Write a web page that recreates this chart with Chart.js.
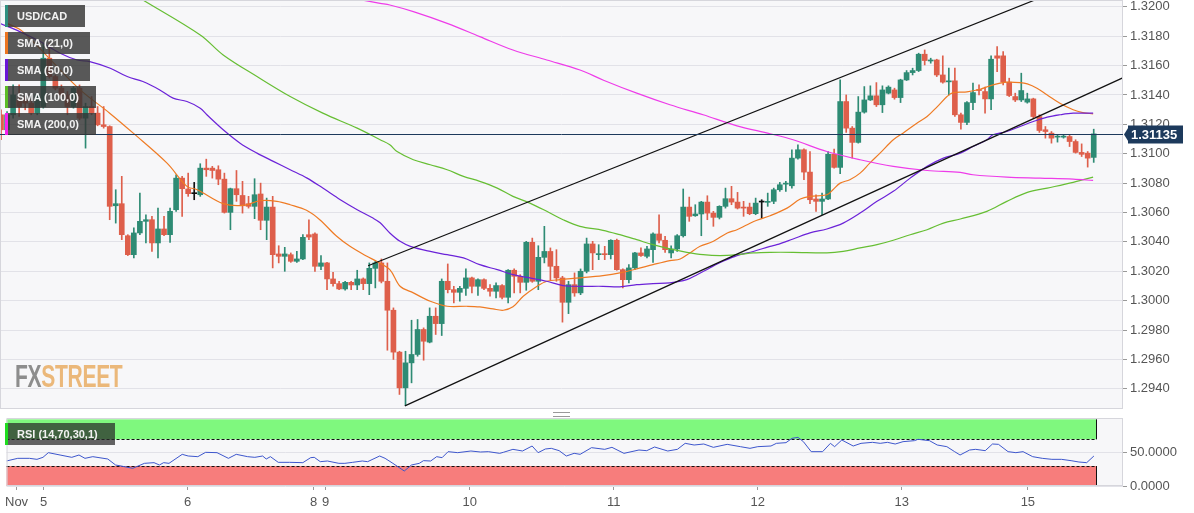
<!DOCTYPE html>
<html>
<head>
<meta charset="utf-8">
<script src="https://cdn.jsdelivr.net/npm/chart.js@4.4.0/dist/chart.umd.min.js"></script>
<style>
  html, body { margin: 0; padding: 0; background: #fff; }
  #wrap { position: relative; width: 1194px; height: 513px; overflow: hidden; font-family: "Liberation Sans", Arial, sans-serif; }
  canvas { position: absolute; left: 0; }
  #main { top: 0; }
  #rsi { top: 411px; }
  .tag { position: absolute; left: 5px; height: 22px; line-height: 22px; background: rgba(52,52,52,0.82);
         color: #f2f2f2; font-size: 11px; font-weight: bold; padding-left: 12px; box-sizing: border-box; }
  .tag i { position: absolute; left: 0; top: 0; width: 3px; height: 100%; }
  #logo { position: absolute; left: 15px; top: 359px; font-size: 31px; font-weight: bold; letter-spacing: -0.5px;
          transform: scaleX(0.68); transform-origin: left top; white-space: nowrap; }
  #grip { position: absolute; left: 553px; top: 412px; width: 17px; height: 3px; border-top: 1px solid #999; border-bottom: 1px solid #999; }
</style>
</head>
<body>
<div id="wrap">
  <canvas id="main" width="1194" height="411"></canvas>
  <canvas id="rsi" width="1194" height="102"></canvas>
  <div class="tag" style="top:5px;width:80px"><i style="background:#2f8f80"></i>USD/CAD</div>
  <div class="tag" style="top:32px;width:85px"><i style="background:#ec7420"></i>SMA (21,0)</div>
  <div class="tag" style="top:59px;width:85px"><i style="background:#6a16d6"></i>SMA (50,0)</div>
  <div class="tag" style="top:86px;width:91px"><i style="background:#5cbc26"></i>SMA (100,0)</div>
  <div class="tag" style="top:113px;width:91px"><i style="background:#f520f0"></i>SMA (200,0)</div>
  <div class="tag" style="top:423px;width:110px;background:rgba(40,40,40,0.72)"><i style="background:#1fdc1f"></i>RSI (14,70,30,1)</div>
  <div id="logo"><span style="color:#8d8d8d">FX</span><span style="color:#ebb87a">STREET</span></div>
  <div id="grip"></div>
</div>
<script>
// hourly candles, index 0 = first bar on the left
const opens = [1.31265,1.31163,1.31265,1.31366,1.31366,1.31344,1.31276,1.31321,1.31650,1.31525,1.31446,1.31400,1.31321,1.31446,1.31242,1.31321,1.31276,1.31197,1.31185,1.30646,
  1.30660,1.30442,1.30313,1.30461,1.30540,1.30551,1.30393,1.30488,1.30449,1.30619,1.30834,1.30760,1.30728,1.30721,1.30902,1.30902,1.30891,1.30827,1.30601,1.30762,
  1.30716,1.30660,1.30642,1.30726,1.30547,1.30637,1.30318,1.30302,1.30313,1.30268,1.30284,1.30449,1.30454,1.30234,1.30257,1.30148,1.30116,1.30080,1.30125,1.30107,
  1.30148,1.30116,1.30220,1.30257,1.30132,1.29935,1.29650,1.29407,1.29577,1.29634,1.29804,1.29718,1.29894,1.29844,1.30132,1.30075,1.30057,1.30084,1.30155,1.30098,
  1.30143,1.30084,1.30064,1.30103,1.30023,1.30207,1.30166,1.30125,1.30397,1.30132,1.30295,1.30335,1.30234,1.30155,1.29989,1.30109,1.30053,1.30200,1.30386,1.30313,
  1.30318,1.30313,1.30411,1.30211,1.30143,1.30223,1.30325,1.30302,1.30347,1.30454,1.30411,1.30325,1.30352,1.30442,1.30637,1.30578,1.30590,1.30671,1.30596,1.30567,
  1.30642,1.30694,1.30671,1.30637,1.30637,1.30592,1.30671,1.30669,1.30676,1.30755,1.30793,1.30782,1.30970,1.31027,1.30875,1.30692,1.30676,1.30692,1.30996,1.30907,
  1.31355,1.31174,1.31077,1.31283,1.31366,1.31394,1.31333,1.31412,1.31434,1.31382,1.31502,1.31552,1.31566,1.31677,1.31631,1.31638,1.31536,1.31489,1.31496,1.31265,
  1.31213,1.31348,1.31434,1.31423,1.31373,1.31666,1.31666,1.31487,1.31389,1.31366,1.31351,1.31373,1.31253,1.31163,1.31140,1.31113,1.31113,1.31117,1.31083,1.31009,
  1.31004,1.30975];
const highs = [1.31299,1.31287,1.31468,1.31468,1.31389,1.31366,1.31412,1.31752,1.31752,1.31536,1.31468,1.31423,1.31457,1.31468,1.31344,1.31389,1.31321,1.31321,1.31190,1.30755,
  1.30846,1.30449,1.30495,1.30732,1.30585,1.30574,1.30630,1.30574,1.30630,1.30857,1.30846,1.30868,1.30805,1.30932,1.30963,1.30914,1.30918,1.30868,1.30766,1.30886,
  1.30812,1.30710,1.30830,1.30800,1.30698,1.30710,1.30374,1.30363,1.30325,1.30335,1.30449,1.30551,1.30461,1.30307,1.30261,1.30193,1.30132,1.30132,1.30132,1.30207,
  1.30155,1.30257,1.30268,1.30284,1.30257,1.29951,1.29656,1.29656,1.29867,1.29872,1.29815,1.29951,1.29951,1.30148,1.30250,1.30098,1.30098,1.30216,1.30161,1.30148,
  1.30148,1.30109,1.30121,1.30109,1.30211,1.30216,1.30177,1.30404,1.30426,1.30374,1.30506,1.30359,1.30347,1.30166,1.30132,1.30189,1.30216,1.30426,1.30404,1.30381,
  1.30370,1.30415,1.30419,1.30216,1.30245,1.30329,1.30359,1.30370,1.30461,1.30585,1.30438,1.30374,1.30449,1.30760,1.30705,1.30653,1.30676,1.30714,1.30608,1.30646,
  1.30766,1.30778,1.30737,1.30676,1.30664,1.30698,1.30687,1.30732,1.30766,1.30805,1.30812,1.31027,1.31061,1.31033,1.31015,1.30721,1.30732,1.31015,1.31031,1.31502,
  1.31400,1.31185,1.31389,1.31457,1.31462,1.31484,1.31462,1.31462,1.31446,1.31507,1.31566,1.31582,1.31684,1.31706,1.31650,1.31643,1.31666,1.31582,1.31582,1.31276,
  1.31355,1.31480,1.31468,1.31453,1.31666,1.31729,1.31695,1.31514,1.31412,1.31548,1.31412,1.31378,1.31265,1.31185,1.31151,1.31129,1.31129,1.31129,1.31095,1.31067,
  1.31015,1.31167];
const lows = [1.31095,1.31140,1.31242,1.31253,1.31299,1.31265,1.31265,1.31310,1.31514,1.31434,1.31389,1.31265,1.31310,1.31231,1.31038,1.31265,1.31190,1.31174,1.30551,1.30528,
  1.30415,1.30307,1.30291,1.30449,1.30393,1.30335,1.30291,1.30442,1.30397,1.30608,1.30574,1.30710,1.30687,1.30710,1.30846,1.30834,1.30789,1.30596,1.30483,1.30676,
  1.30596,1.30630,1.30558,1.30483,1.30415,1.30223,1.30257,1.30200,1.30261,1.30261,1.30279,1.30415,1.30200,1.30211,1.30075,1.30098,1.30075,1.30071,1.30075,1.30075,
  1.30075,1.30041,1.30087,1.30121,1.29663,1.29600,1.29362,1.29287,1.29441,1.29622,1.29595,1.29713,1.29770,1.29763,1.30053,1.29985,1.29996,1.30035,1.30053,1.30035,
  1.30075,1.30030,1.30019,1.30012,1.29985,1.30053,1.30053,1.30071,1.30125,1.30075,1.30257,1.30143,1.30132,1.29854,1.29912,1.30030,1.30041,1.30189,1.30211,1.30279,
  1.30279,1.30284,1.30207,1.30087,1.30121,1.30211,1.30302,1.30291,1.30261,1.30393,1.30329,1.30291,1.30335,1.30433,1.30540,1.30574,1.30442,1.30551,1.30506,1.30556,
  1.30630,1.30653,1.30624,1.30574,1.30585,1.30585,1.30562,1.30642,1.30660,1.30744,1.30744,1.30766,1.30963,1.30823,1.30660,1.30608,1.30585,1.30687,1.30902,1.30864,
  1.31145,1.30970,1.31072,1.31276,1.31362,1.31321,1.31280,1.31407,1.31371,1.31348,1.31498,1.31536,1.31559,1.31604,1.31616,1.31525,1.31480,1.31400,1.31253,1.31167,
  1.31197,1.31299,1.31400,1.31276,1.31299,1.31559,1.31468,1.31389,1.31355,1.31355,1.31344,1.31242,1.31145,1.31106,1.31072,1.31079,1.31106,1.31049,1.31004,1.30981,
  1.30909,1.30941];
const closes = [1.31163,1.31265,1.31400,1.31321,1.31344,1.31276,1.31400,1.31650,1.31525,1.31446,1.31400,1.31321,1.31446,1.31242,1.31321,1.31276,1.31197,1.31185,1.30642,1.30660,
  1.30449,1.30313,1.30461,1.30540,1.30551,1.30393,1.30488,1.30449,1.30608,1.30834,1.30762,1.30728,1.30728,1.30902,1.30891,1.30886,1.30827,1.30601,1.30762,1.30721,
  1.30646,1.30642,1.30721,1.30547,1.30637,1.30313,1.30302,1.30318,1.30268,1.30284,1.30431,1.30433,1.30234,1.30257,1.30148,1.30116,1.30080,1.30125,1.30107,1.30148,
  1.30116,1.30220,1.30257,1.30132,1.29935,1.29650,1.29407,1.29577,1.29634,1.29804,1.29724,1.29894,1.29844,1.30132,1.30075,1.30057,1.30084,1.30155,1.30098,1.30143,
  1.30084,1.30064,1.30103,1.30023,1.30207,1.30166,1.30125,1.30397,1.30132,1.30295,1.30335,1.30234,1.30155,1.29989,1.30109,1.30053,1.30200,1.30386,1.30325,1.30320,
  1.30313,1.30411,1.30211,1.30143,1.30223,1.30325,1.30307,1.30352,1.30454,1.30411,1.30347,1.30352,1.30442,1.30637,1.30574,1.30590,1.30671,1.30596,1.30567,1.30642,
  1.30694,1.30671,1.30630,1.30630,1.30592,1.30664,1.30671,1.30676,1.30755,1.30789,1.30800,1.30970,1.31027,1.30875,1.30687,1.30676,1.30692,1.30996,1.30907,1.31355,
  1.31174,1.31077,1.31283,1.31366,1.31394,1.31333,1.31434,1.31453,1.31382,1.31502,1.31552,1.31566,1.31677,1.31634,1.31638,1.31536,1.31487,1.31496,1.31265,1.31213,
  1.31348,1.31416,1.31430,1.31373,1.31643,1.31650,1.31487,1.31396,1.31366,1.31430,1.31373,1.31253,1.31158,1.31151,1.31106,1.31117,1.31117,1.31083,1.31009,1.30996,
  1.30970,1.31135];

// moving averages as [bar index, price]
const sma21 = [[1,1.31887],[3.6,1.31831],[12.8,1.31446],[18,1.31276],[21.9,1.31140],[27.5,1.30936],[30.8,1.30778],[32.5,1.30755],[36.8,1.30660],[40.1,1.30648],
  [42.9,1.30680],[45.7,1.30676],[47.9,1.30653],[50.6,1.30615],[52.8,1.30551],[55.6,1.30438],[57.8,1.30370],[60.6,1.30302],[62.2,1.30268],[64.4,1.30211],
  [66.1,1.30098],[68.3,1.30053],[71.1,1.29996],[73.9,1.29962],[77.2,1.29962],[79.3,1.29958],[81.5,1.29944],[83.2,1.29935],[84.8,1.29958],[86.5,1.30030],
  [88.8,1.30098],[90.4,1.30132],[92.6,1.30143],[95.9,1.30155],[99.7,1.30171],[102.5,1.30189],[105.3,1.30216],[108,1.30245],[110.8,1.30273],[112.5,1.30284],
  [114.1,1.30325],[115.8,1.30370],[118,1.30404],[120.3,1.30461],[121.9,1.30483],[123.6,1.30517],[125.2,1.30547],[127.4,1.30578],[130.2,1.30630],[132.4,1.30692],
  [134,1.30710],[136.8,1.30721],[137.8,1.30755],[139,1.30800],[140.6,1.30823],[142.3,1.30868],[143.9,1.30936],[145.6,1.31004],[147.8,1.31095],[149.4,1.31140],
  [151.7,1.31208],[153.4,1.31253],[155.1,1.31321],[156.7,1.31389],[157.7,1.31416],[160,1.31421],[162.2,1.31439],[163.8,1.31462],[165.5,1.31480],[166.6,1.31487],
  [168.8,1.31484],[170,1.31475],[171.6,1.31446],[173.3,1.31400],[175.4,1.31344],[177.6,1.31299],[179.2,1.31280],[180.9,1.31271]];
const sma50 = [[-0.2,1.31887],[3.1,1.31831],[6.5,1.31763],[9.8,1.31684],[12.6,1.31638],[14.7,1.31627],[18.1,1.31582],[20.9,1.31525],[23.5,1.31491],[26.3,1.31434],
  [28.5,1.31378],[30.8,1.31355],[33,1.31310],[34.1,1.31265],[36.8,1.31163],[39.6,1.31072],[42.4,1.31004],[45.1,1.30948],[47.9,1.30891],[50.7,1.30834],
  [53.3,1.30766],[56.2,1.30687],[59,1.30619],[61.6,1.30562],[62.8,1.30530],[64.4,1.30461],[66.1,1.30404],[67.8,1.30370],[71.1,1.30335],[73.9,1.30313],
  [76.6,1.30291],[79.3,1.30245],[82.2,1.30211],[84.8,1.30177],[87.6,1.30155],[90.4,1.30132],[93.1,1.30103],[95.9,1.30098],[99.7,1.30098],[102.5,1.30094],
  [105.3,1.30109],[108,1.30116],[110.8,1.30121],[113.6,1.30143],[115.3,1.30177],[117.4,1.30223],[119.6,1.30268],[121.9,1.30307],[124.6,1.30335],[127.4,1.30370],
  [128.5,1.30381],[131.2,1.30420],[134,1.30461],[136.8,1.30488],[139.5,1.30528],[142.3,1.30596],[145.1,1.30676],[147.8,1.30744],[150.6,1.30834],[153.4,1.30914],
  [156.1,1.30970],[158.9,1.31004],[161,1.31049],[163.3,1.31095],[164.3,1.31129],[166.6,1.31151],[168.8,1.31185],[171,1.31219],[173.3,1.31249],[175.4,1.31265],
  [177.6,1.31276],[180.9,1.31276]];
const sma100 = [[23.5,1.32046],[33,1.31808],[36.8,1.31672],[42.4,1.31525],[47.9,1.31389],[53.3,1.31276],[59,1.31174],[62.8,1.31095],[64.4,1.31061],[65.6,1.31015],
  [68.3,1.30959],[71.1,1.30925],[73.9,1.30891],[76.6,1.30846],[79.3,1.30812],[82.2,1.30766],[84.8,1.30710],[87.6,1.30664],[90.4,1.30608],[93.1,1.30551],
  [95.9,1.30506],[99.7,1.30479],[102.5,1.30449],[105.3,1.30415],[108,1.30381],[110.8,1.30352],[113.6,1.30329],[116.3,1.30313],[119.1,1.30307],[121.9,1.30313],
  [124.6,1.30325],[127.4,1.30329],[131.2,1.30329],[136.8,1.30325],[139.5,1.30335],[142.3,1.30359],[145.1,1.30381],[147.8,1.30411],[150.6,1.30449],[153.4,1.30483],
  [156.1,1.30528],[158.9,1.30556],[163.3,1.30608],[166.6,1.30676],[170,1.30737],[173.3,1.30766],[177.6,1.30805],[180.9,1.30841]];
const sma200 = [[59.7,1.32046],[62.8,1.32023],[64.4,1.32012],[68.3,1.31967],[73.9,1.31887],[79.3,1.31797],[84.8,1.31706],[90.4,1.31638],[95.9,1.31570],[99.7,1.31502],
  [105.3,1.31412],[110.8,1.31333],[116.3,1.31265],[121.9,1.31190],[127.4,1.31136],[131.2,1.31095],[136.8,1.31015],[142.3,1.30959],[147.8,1.30914],[153.4,1.30886],
  [158.9,1.30873],[161,1.30857],[166.6,1.30841],[172.1,1.30834],[177.6,1.30827],[180.9,1.30818]];

// drawn channel
const channelUpper = [[60.8,1.30238],[185.9,1.32286]];
const channelLower = [[66.9,1.29284],[185.9,1.31518]];
const lastPrice = 1.31135;

// RSI (14) read as [bar index, value]
const rsi = [[-0.2,37.5],[1.7,41.5],[3.65,41.5],[4.9,40],[5.9,43],[6.8,50],[8.75,46.5],[10.7,43],[11.9,46.5],[12.9,41.5],[14.2,44],[16.7,40.5],[18,31.5],[18.9,30],
  [20.85,26.5],[22.8,34],[24.4,35],[25.3,31.5],[26,35],[26.9,34],[29.1,47.5],[30.1,45],[31.7,44],[33,50.5],[34.9,50],[36.8,41.5],[38.1,47.5],[40,44],[41.2,43],
  [42.5,45],[43.1,40.5],[43.8,44],[45.1,35.5],[47,35.5],[49.2,35],[50.5,42.5],[51.1,43],[52.1,36.5],[53.3,37.5],[55.2,34],[56.2,34],[57.5,35.5],[59.1,37.5],
  [60,36.5],[62,45],[62.9,41.5],[64.2,34],[66.1,22.5],[67.3,31.5],[68.6,34],[69.3,38],[70.5,37.5],[71.5,44],[72.4,42.5],[73.4,51.5],[75,50],[77.2,52.5],
  [78.8,51],[80.1,51.5],[82,49],[82.6,50.5],[84.2,55],[85.8,52.5],[87.4,60],[88.4,50],[89.6,55.5],[90.6,56.5],[91.9,53],[93.1,45],[94.4,49],[95.4,47.5],
  [97.3,57.5],[99.5,55],[100.7,58],[102.7,49],[105.2,54],[106.5,53],[107.8,58.5],[110,52.5],[111.6,55],[112.9,64],[114.4,61.5],[116,63],[117.6,58],[119.9,62.5],
  [122.1,59],[123.7,56.5],[125,59],[127.2,60],[128.1,64],[129.7,65],[130.7,71.5],[131.7,73],[132.6,66.5],[133.9,51.5],[135.8,51.5],[137.1,64],[137.8,59],[139,69],
  [140.9,60],[142.2,64],[144.1,65.5],[145.4,64],[146.6,65.5],[147.9,63],[149.2,66.5],[151.1,68],[151.7,70],[153.6,68],[154.9,61.5],[156.5,59],[157.8,51.5],
  [158.7,46.5],[160.3,54],[161.3,55],[162.9,53],[164.1,63],[165.1,62.5],[166.7,51.5],[168,50],[169.2,51.5],[170.8,44],[172.4,41.5],[174,40],[175.6,40],
  [177.2,38],[178.5,36],[179.8,35],[181,45]];
const rsiUpper = [70, 100];
const rsiLower = [0, 30];
const rsiTicks = [0, 50];

// x axis day marks
const dayTicks = [1.5, 6, 30, 51, 53, 77, 101, 125, 149, 170];
const dayLabels = ['Nov', '5', '6', '8', '9', '10', '11', '12', '13', '15'];

const X_MIN = -0.17, X_MAX = 185.85;
const UP = '#2e8b74', DOWN = '#de5f4b', FLAT = '#111';
const FONT = '"Liberation Sans", Arial, sans-serif';

const colors = opens.map((o, i) => closes[i] > o ? UP : closes[i] < o ? DOWN : FLAT);
const pts = arr => arr.map(([x, y]) => ({x, y}));
const lineDs = (data, color, w) => ({type: 'line', data: pts(data), borderColor: color, borderWidth: w || 1.2,
  pointRadius: 0, tension: 0.35, order: 1});
// right axis: fixed width, no extra room for the end labels
const fixAxis = s => { s.width = 71; s.paddingTop = 0; s.paddingBottom = 0; };

const panelBg = {
  id: 'panelBg',
  beforeDraw(chart) {
    const {ctx, chartArea: a} = chart;
    ctx.save();
    ctx.fillStyle = '#f7f7f9';
    ctx.fillRect(a.left, a.top, a.width, a.height);
    ctx.restore();
  },
  afterDraw(chart) {
    const {ctx, chartArea: a} = chart;
    ctx.save();
    ctx.strokeStyle = '#d6d6dc';
    ctx.lineWidth = 1;
    ctx.strokeRect(a.left + 0.5, a.top + 0.5, a.width - 1, a.height - 1);
    ctx.restore();
  }
};

const priceTag = {
  id: 'priceTag',
  afterDraw(chart) {
    const {ctx, chartArea: a, scales: {y}} = chart;
    const py = Math.round(y.getPixelForValue(lastPrice)) + 0.5;
    ctx.save();
    ctx.strokeStyle = '#1d3a5c';
    ctx.lineWidth = 1;
    ctx.beginPath(); ctx.moveTo(a.left, py); ctx.lineTo(a.right, py); ctx.stroke();
    ctx.fillStyle = '#1d3a5c';
    ctx.beginPath();
    ctx.moveTo(a.right + 1, py); ctx.lineTo(a.right + 6, py - 8); ctx.lineTo(a.right + 6, py + 8); ctx.closePath(); ctx.fill();
    ctx.fillRect(a.right + 5, py - 9, 55, 18);
    ctx.fillStyle = '#fff';
    ctx.font = 'bold 13px ' + FONT;
    ctx.textBaseline = 'middle';
    ctx.fillText(lastPrice.toFixed(5), a.right + 8, py + 1);
    ctx.restore();
  }
};

new Chart(document.getElementById('main'), {
  type: 'bar',
  data: {
    datasets: [
      {data: opens.map((o, i) => ({x: i, y: [lows[i], highs[i]]})), backgroundColor: colors, barThickness: 1, grouped: false, order: 3},
      {data: opens.map((o, i) => ({x: i, y: [o, closes[i]]})), backgroundColor: colors, barThickness: 5, minBarLength: 1, grouped: false, order: 2},
      lineDs(sma200, '#ee3ce9'),
      lineDs(sma100, '#66be33'),
      lineDs(sma50, '#6b22d8'),
      lineDs(sma21, '#ef7b24'),
      {type: 'line', data: pts(channelUpper), borderColor: '#111', borderWidth: 1.2, pointRadius: 0, order: 0},
      {type: 'line', data: pts(channelLower), borderColor: '#111', borderWidth: 1.2, pointRadius: 0, order: 0}
    ]
  },
  options: {
    responsive: false,
    animation: false,
    layout: {padding: {top: 0, bottom: 2, left: 0, right: 0}},
    plugins: {legend: {display: false}, tooltip: {enabled: false}},
    scales: {
      x: {type: 'linear', min: X_MIN, max: X_MAX, offset: false, display: false},
      y: {
        position: 'right', min: 1.29263, max: 1.32046,
        afterFit: fixAxis,
        border: {display: false},
        grid: {color: '#e2e2e8', tickColor: '#999', tickLength: 4},
        ticks: {stepSize: 0.002, includeBounds: false, padding: 3, color: '#555', font: {family: FONT, size: 13},
          callback: v => Number(v).toFixed(4)}
      }
    }
  },
  plugins: [panelBg, priceTag]
});

const bands = {
  id: 'bands',
  beforeDatasetsDraw(chart) {
    const {ctx, chartArea: a, scales: {x, y}} = chart;
    const xr = Math.round(x.getPixelForValue(181.3)) + 0.5;
    ctx.save();
    [[rsiUpper, '#7ff87e'], [rsiLower, '#f77d7c']].forEach(([b, c]) => {
      const t = y.getPixelForValue(b[1]), btm = y.getPixelForValue(b[0]);
      ctx.fillStyle = c;
      ctx.fillRect(a.left, t, xr - a.left, btm - t);
      ctx.strokeStyle = '#111';
      ctx.lineWidth = 1;
      ctx.beginPath(); ctx.moveTo(xr, t); ctx.lineTo(xr, btm); ctx.stroke();
    });
    ctx.setLineDash([3, 2]);
    [rsiUpper[0], rsiLower[1]].forEach(v => {
      const py = Math.round(y.getPixelForValue(v)) + 0.5;
      ctx.beginPath(); ctx.moveTo(a.left, py); ctx.lineTo(xr, py); ctx.stroke();
    });
    ctx.restore();
  }
};

new Chart(document.getElementById('rsi'), {
  type: 'line',
  data: {datasets: [{data: pts(rsi), borderColor: '#3d56cc', borderWidth: 1, pointRadius: 0, tension: 0}]},
  options: {
    responsive: false,
    animation: false,
    layout: {padding: {top: 7, bottom: 0, left: 0, right: 0}},
    plugins: {legend: {display: false}, tooltip: {enabled: false}},
    scales: {
      x: {
        type: 'linear', min: X_MIN, max: X_MAX, offset: false,
        afterBuildTicks: s => { s.ticks = dayTicks.map(v => ({value: v})); },
        afterFit: s => { s.height = 27; },
        border: {display: false},
        grid: {drawOnChartArea: false, tickColor: '#999', tickLength: 4},
        ticks: {autoSkip: false, maxRotation: 0, padding: 5, color: '#555', font: {family: FONT, size: 13},
          callback: (v, i) => dayLabels[i]}
      },
      y: {
        position: 'right', min: 0, max: 102,
        afterBuildTicks: s => { s.ticks = rsiTicks.map(v => ({value: v})); },
        afterFit: fixAxis,
        border: {display: false},
        grid: {color: '#e2e2e8', tickColor: '#999', tickLength: 4},
        ticks: {padding: 3, color: '#555', font: {family: FONT, size: 13}, callback: v => Number(v).toFixed(4)}
      }
    }
  },
  plugins: [panelBg, bands]
});
</script>
</body>
</html>
